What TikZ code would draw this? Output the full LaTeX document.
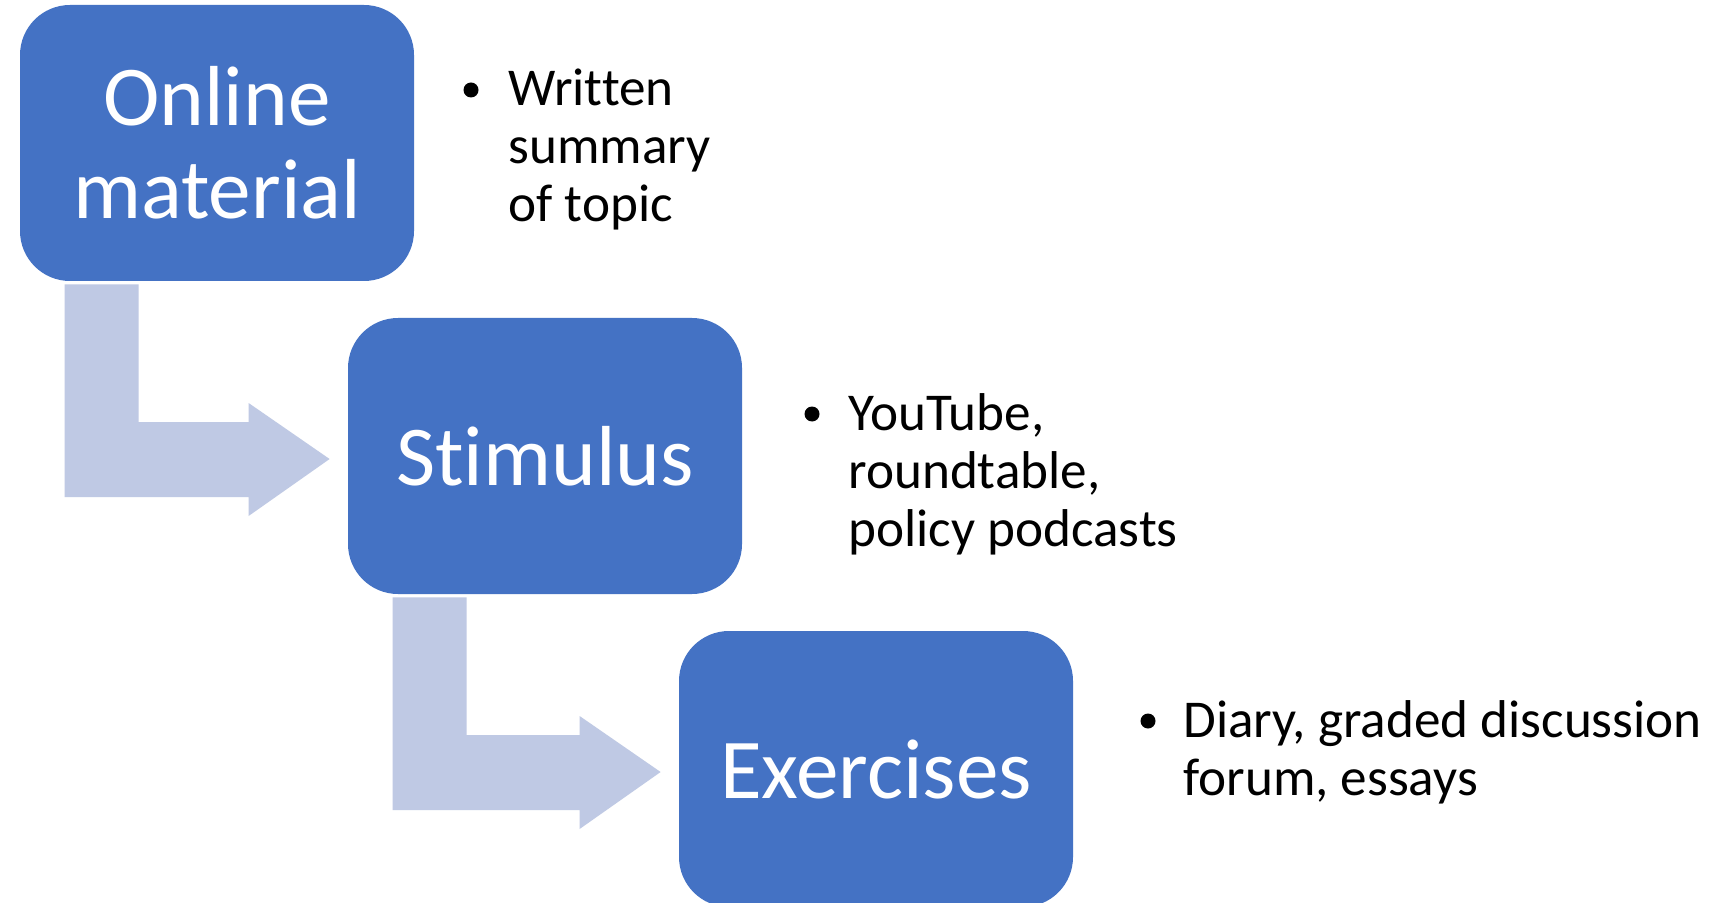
\documentclass[tikz,border=0pt]{standalone}
\usepackage{fontspec}
\setmainfont{Carlito}[Ligatures=NoCommon, RawFeature={-liga;-calt}]
\usetikzlibrary{calc}
\definecolor{boxblue}{RGB}{68,114,196}
\definecolor{arrowlav}{RGB}{191,201,228}
\tikzset{
  stepbox/.style={fill=boxblue, draw=none, rounded corners=25pt, minimum width=197pt, minimum height=138pt,
    inner sep=0pt, text=white, align=center, font=\fontsize{42.6}{46.5}\selectfont},
  bullettext/.style={anchor=base west, inner sep=0pt, align=left, text=black, font=\fontsize{26.6}{29}\selectfont},
  bulletdot/.style={circle, fill=black, inner sep=0pt, minimum size=7.5pt},
  bentarrow/.style={fill=arrowlav, draw=none}
}
\newcommand\mybent[2]{%
  \coordinate (#1-sl) at ($(#1.south west)+(45,3)$);
  \coordinate (#1-sr) at ($(#1.south west)+(119,3)$);
  \coordinate (#1-bt) at ($(#2.west)+(-99,-34)$);
  \coordinate (#1-bb) at ($(#2.west)+(-99,41)$);
  \fill[bentarrow]
    (#1-sl) -- (#1-sr)
    -- (#1-sr |- #1-bt)
    -- (#1-bt)
    -- ($(#2.west)+(-99,-53)$)
    -- ($(#2.west)+(-18,3)$)
    -- ($(#2.west)+(-99,60)$)
    -- (#1-bb)
    -- (#1-sl |- #1-bb)
    -- cycle;}
\begin{document}
\begin{tikzpicture}[x=0.5pt,y=-0.5pt]
\useasboundingbox (0,0) rectangle (1716,903);
\fill[white] (0,0) rectangle (1716,903);
\begin{scope}
\clip (0,0) rectangle (1716,903);
\node[stepbox] (b1) at (217,143) {Online\\material};
\node[stepbox] (b2) at (545,456) {Stimulus};
\node[stepbox] (b3) at (876,769) {Exercises};
\mybent{b1}{b2}
\mybent{b2}{b3}
\end{scope}
\node[bulletdot] (d1) at (471,90) {};
\node[bullettext] (t1) at (508,222) {Written\\summary\\of topic};
\node[bulletdot] (d2) at (812,414) {};
\node[bullettext] (t2) at (848,546) {YouTube,\\roundtable,\\policy podcasts};
\node[bulletdot] (d3) at (1148,721) {};
\node[bullettext] (t3) at (1183,795) {Diary, graded discussion\\forum, essays};
\end{tikzpicture}
\end{document}
